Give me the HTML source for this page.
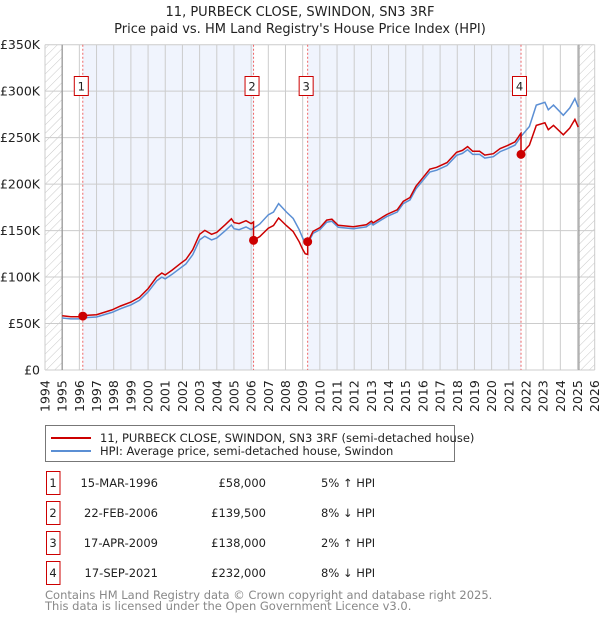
<!DOCTYPE html>
<html><head><meta charset="utf-8"><style>
body{margin:0;background:#fff;font-family:"Liberation Sans","DejaVu Sans",sans-serif;}
svg{display:block}
</style></head><body>
<svg id="chart" width="600" height="620" viewBox="0 0 600 620" font-family="DejaVu Sans, Liberation Sans, sans-serif">
<defs>
<pattern id="hatch" patternUnits="userSpaceOnUse" width="6" height="6" patternTransform="rotate(45)">
<line x1="0" y1="0" x2="0" y2="6" stroke="#c8c8c8" stroke-width="1"/>
</pattern>
</defs>
<text x="300" y="16" text-anchor="middle" font-size="13" fill="#222">11, PURBECK CLOSE, SWINDON, SN3 3RF</text>
<text x="300" y="33" text-anchor="middle" font-size="13" fill="#222">Price paid vs. HM Land Registry's House Price Index (HPI)</text>
<g id="plot"></g>
<g>
<rect x="45.5" y="425.5" width="409" height="36" fill="#fff" stroke="#777"/>
<line x1="51" y1="438" x2="91" y2="438" stroke="#cc0000" stroke-width="2"/>
<text x="100" y="442" font-size="11.5" fill="#222">11, PURBECK CLOSE, SWINDON, SN3 3RF (semi-detached house)</text>
<line x1="51" y1="451" x2="91" y2="451" stroke="#5b8fd4" stroke-width="2"/>
<text x="100" y="455" font-size="11.5" fill="#222">HPI: Average price, semi-detached house, Swindon</text>
</g>
<g id="table" font-size="11.5" fill="#222"></g>
<text x="45" y="599" font-size="11.5" fill="#888">Contains HM Land Registry data © Crown copyright and database right 2025.</text>
<text x="45" y="610" font-size="11.5" fill="#888">This data is licensed under the Open Government Licence v3.0.</text>
</svg>
<script>
const yearTicks = [1994,1995,1996,1997,1998,1999,2000,2001,2002,2003,2004,2005,2006,2007,2008,2009,2010,2011,2012,2013,2014,2015,2016,2017,2018,2019,2020,2021,2022,2023,2024,2025,2026];
const valueTicks = [0,50,100,150,200,250,300,350];
const valueTickLabels = ["£0","£50K","£100K","£150K","£200K","£250K","£300K","£350K"];
const hpiYears = [1995.0,1995.5,1996.0,1996.5,1997.0,1997.9,1998.4,1999.0,1999.5,2000.0,2000.5,2000.8,2001.0,2001.4,2001.9,2002.2,2002.6,2003.0,2003.3,2003.7,2004.0,2004.5,2004.85,2005.0,2005.3,2005.7,2006.0,2006.5,2007.0,2007.3,2007.6,2008.05,2008.45,2008.8,2009.0,2009.15,2009.3,2009.6,2010.0,2010.4,2010.7,2011.07,2011.95,2012.7,2013.0,2013.1,2013.9,2014.5,2014.86,2015.25,2015.6,2016.0,2016.4,2016.8,2017.4,2017.96,2018.3,2018.6,2018.9,2019.3,2019.6,2020.1,2020.5,2020.9,2021.36,2021.55,2021.7,2022.2,2022.6,2023.1,2023.3,2023.6,2024.17,2024.55,2024.85,2025.04];
const hpiValues = [56,55,55,56.5,57,62,66,70,75,84,96,100,98,103,110,114,124,140,144,140,142,150,156,152,151,154,151,157,167,170,179,170,163,151,142,137,136,147,151,159,160,153.5,152,154,158,156,165,170,179,183,195,204,213,215,220,231,233,237,232,232,228,229.5,235,238,242,247,251,262,285,288,280,285,274,282,292,283];
const saleLabels = ["1","2","3","4"];
const saleYears = [1996.2,2006.14,2009.29,2021.71];
const salePrices = [58,139.5,138,232];
const saleDates = ["15-MAR-1996","22-FEB-2006","17-APR-2009","17-SEP-2021"];
const salePriceText = ["£58,000","£139,500","£138,000","£232,000"];
const saleHpiText = ["5% ↑ HPI","8% ↓ HPI","2% ↑ HPI","8% ↓ HPI"];

const NS="http://www.w3.org/2000/svg";
const L=45,R=594.7,T=44.7,B=370;
const xS=y=>L+(y-1994)*(R-L)/32;
const yS=v=>B-v*(B-T)/350;
const plot=document.getElementById('plot');
function mk(tag,attrs,parent){const e=document.createElementNS(NS,tag);for(const k in attrs)e.setAttribute(k,attrs[k]);(parent||plot).appendChild(e);return e;}
function hpiAt(t){for(let i=0;i<hpiYears.length-1;i++){if(t>=hpiYears[i]&&t<=hpiYears[i+1]){const f=(t-hpiYears[i])/(hpiYears[i+1]-hpiYears[i]);return hpiValues[i]+f*(hpiValues[i+1]-hpiValues[i]);}}return t<hpiYears[0]?hpiValues[0]:hpiValues[hpiValues.length-1];}

for(let i=0;i<saleYears.length-1;i+=2){
  const r=mk('rect',{x:xS(saleYears[i]),y:T,width:xS(saleYears[i+1])-xS(saleYears[i]),height:B-T,fill:'#f0f4fd'});
  
  
}
const h1=mk('rect',{x:L,y:T,width:xS(1995)-L,height:B-T,fill:'url(#hatch)'});


const h2=mk('rect',{x:xS(2025.08),y:T,width:R-xS(2025.08),height:B-T,fill:'url(#hatch)'});


yearTicks.forEach(y=>{
  const g=mk('line',{x1:xS(y),x2:xS(y),y1:T,y2:B,stroke:'#cccccc','stroke-width':1});
  
  
  const t=mk('text',{x:0,y:0,transform:`translate(${xS(y)+4.5},${B+42}) rotate(-90)`,'font-size':12.5,fill:'#222'});
  t.textContent=y;
  
  
});
valueTicks.forEach((v,i)=>{
  const g=mk('line',{x1:L,x2:R,y1:yS(v),y2:yS(v),stroke:'#cccccc','stroke-width':1});
  
  
  const t=mk('text',{x:40,y:yS(v)+4.5,'text-anchor':'end','font-size':12.5,fill:'#222'});
  t.textContent=valueTickLabels[i];
  
  
});
const ax1=mk('line',{x1:xS(1995),x2:xS(1995),y1:T,y2:B,stroke:'#999','stroke-width':1.3});


const ax2=mk('line',{x1:xS(2025.08),x2:xS(2025.08),y1:T,y2:B,stroke:'#999','stroke-width':1.3});


saleYears.forEach((s,i)=>{
  const l=mk('line',{x1:xS(s),x2:xS(s),y1:T,y2:B,stroke:'#ee6666','stroke-width':1,'stroke-dasharray':'2,2'});
  
  
});
const hp=mk('path',{d:hpiYears.map((y,i)=>(i?'L':'M')+xS(y).toFixed(1)+','+yS(hpiValues[i]).toFixed(1)).join(''),fill:'none',stroke:'#5b8fd4','stroke-width':1.5});


let d='';
for(let i=0;i<hpiYears.length;i++){
  const t=hpiYears[i];
  let k=0;for(let j=0;j<saleYears.length;j++)if(t>=saleYears[j])k=j;
  if(i>0){
    for(let j=0;j<saleYears.length;j++){
      if(saleYears[j]>hpiYears[i-1]&&saleYears[j]<=t){
        const pk=Math.max(0,j-1);
        const before=hpiAt(saleYears[j])*salePrices[pk]/hpiAt(saleYears[pk]);
        d+='L'+xS(saleYears[j]).toFixed(1)+','+yS(j===0?salePrices[0]:before).toFixed(1);
        d+='L'+xS(saleYears[j]).toFixed(1)+','+yS(salePrices[j]).toFixed(1);
      }
    }
  }
  const v=hpiValues[i]*salePrices[k]/hpiAt(saleYears[k]);
  d+=(i?'L':'M')+xS(t).toFixed(1)+','+yS(v).toFixed(1);
}
const pp=mk('path',{d:d,fill:'none',stroke:'#cc0000','stroke-width':1.5});


saleYears.forEach((s,i)=>{
  const c=mk('circle',{cx:xS(s),cy:yS(salePrices[i]),r:4.5,fill:'#cc0000'});
  
  
  const bx=xS(s)-8.5;
  const r=mk('rect',{x:bx,y:76.5,width:14,height:19,fill:'#fff',stroke:'#cc0000','stroke-width':1});
  
  
  const t=mk('text',{x:bx+7,y:90.5,'text-anchor':'middle','font-size':11.5,fill:'#222'});
  t.textContent=saleLabels[i];
  
  
});
const tb=document.getElementById('table');
saleYears.forEach((s,i)=>{
  const cy=483+i*30;
  const r=mk('rect',{x:46.5,y:cy-11.5,width:13.5,height:23,fill:'#fff',stroke:'#cc0000','stroke-width':1},tb);
  
  
  const cells=[[53,'middle',saleLabels[i],'table-row-number'],[158,'end',saleDates[i],'table-row-date'],[266,'end',salePriceText[i],'table-row-price'],[321,'start',saleHpiText[i],'table-row-hpi']];
  cells.forEach(c=>{
    const t=mk('text',{x:c[0],y:cy+4,'text-anchor':c[1]},tb);
    t.textContent=c[2];
    
    
  });
});
</script>
</body></html>
